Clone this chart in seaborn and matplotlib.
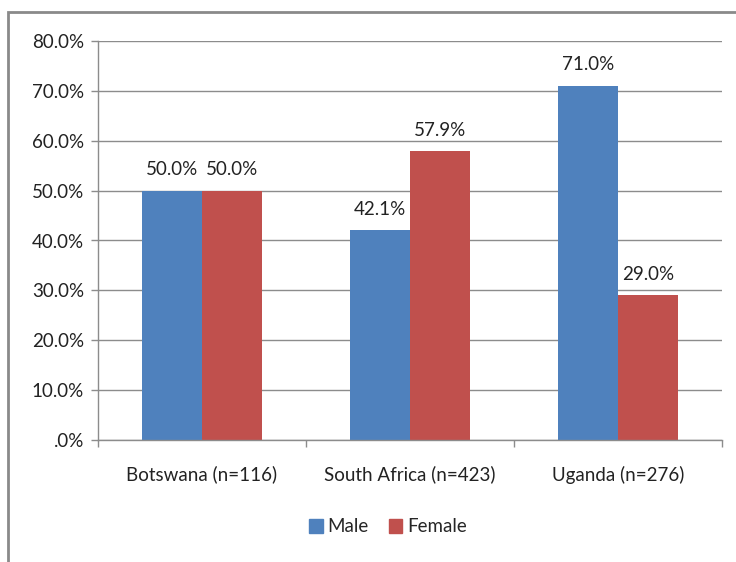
import numpy as np
import pandas as pd
import seaborn as sb
import matplotlib
matplotlib.use("Agg")
import matplotlib.pyplot as plt
from matplotlib.ticker import FuncFormatter, MultipleLocator
from matplotlib.patches import Rectangle

countries = ["Botswana (n=116)", "South Africa (n=423)", "Uganda (n=276)"]
male = [50.0, 42.1, 71.0]
female = [50.0, 57.9, 29.0]
series = ["Male", "Female"]
colors = ["#4F81BD", "#C0504D"]

df = pd.DataFrame({
    "country": countries * 2,
    "sex": ["Male"] * 3 + ["Female"] * 3,
    "pct": male + female,
})

sb.set_style("white")
plt.rcParams["font.family"] = ["Lato", "DejaVu Sans"]
fs = 13.5

fig = plt.figure(figsize=(7.36, 5.62), dpi=100)
ax = fig.add_axes([98 / 736, 1 - 440 / 562, 624 / 736, 399 / 562])

sb.barplot(data=df, x="country", y="pct", hue="sex", hue_order=series,
           palette=colors, width=0.577, gap=0, saturation=1, linewidth=0,
           ax=ax, legend=False)

ax.set_ylim(0, 80)
ax.set_xlim(-0.5, 2.5)
ax.yaxis.set_major_locator(MultipleLocator(10))
ax.yaxis.set_major_formatter(FuncFormatter(lambda v, p: ".0%" if v == 0 else f"{v:.1f}%"))
ax.grid(axis="y", color="#8c8c8c", lw=1)
ax.set_axisbelow(True)
ax.set_xlabel("")
ax.set_ylabel("")
for s in ["top", "right"]:
    ax.spines[s].set_visible(False)
for s in ["left", "bottom"]:
    ax.spines[s].set_color("#8c8c8c")
    ax.spines[s].set_linewidth(1)
ax.tick_params(axis="y", labelsize=fs, colors="#8c8c8c", labelcolor="#222222",
               length=5, width=1, left=True, pad=5)
ax.tick_params(axis="x", labelsize=fs, labelcolor="#222222", bottom=False, pad=15)
# category boundary ticks on the x axis
ax.set_xticks([-0.5, 0.5, 1.5, 2.5], minor=True)
ax.tick_params(axis="x", which="minor", length=5, width=1, colors="#8c8c8c", bottom=True)

for cont in ax.containers:
    ax.bar_label(cont, fmt="%.1f%%", padding=9, fontsize=fs, color="#222222")

handles = [Rectangle((0, 0), 1, 1, color=c) for c in colors]
fig.legend(handles, series, loc="center", bbox_to_anchor=(388 / 736, 1 - 527 / 562),
           ncol=2, frameon=False, fontsize=fs, handlelength=0.7, handleheight=0.8,
           handletextpad=0.25, columnspacing=1.1)

# outer chart frame
fig.patches.append(Rectangle((8 / 736, -0.1), 1.2, 1 - 12 / 562 + 0.1,
                             transform=fig.transFigure, fill=False,
                             edgecolor="#8a8a8a", lw=2))

fig.savefig("out.png", dpi=100)
